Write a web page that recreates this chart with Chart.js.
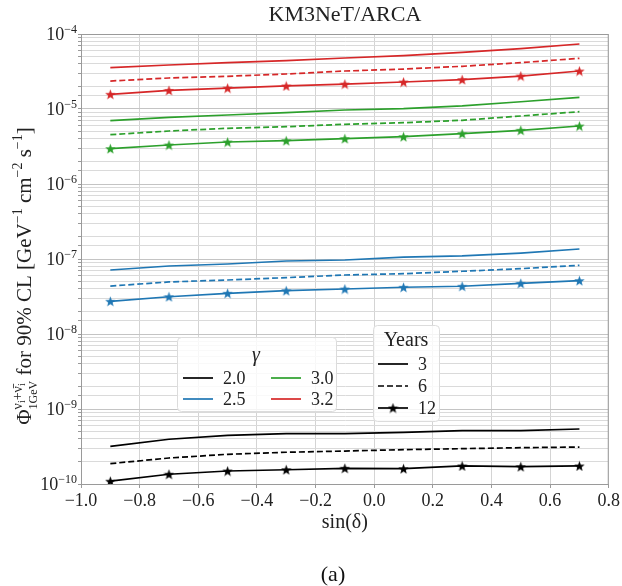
<!DOCTYPE html>
<html>
<head>
<meta charset="utf-8">
<script src="https://cdn.jsdelivr.net/npm/chart.js@4.4.1/dist/chart.umd.min.js"></script>
<style>
  html, body { margin: 0; padding: 0; background: #fff; }
  #wrap { width: 622px; height: 586px; position: relative; }
</style>
</head>
<body>
<div id="wrap"><canvas id="chart"></canvas></div>
<script>
// sin(declination) sample points
var sinDec = [-0.9, -0.7, -0.5, -0.3, -0.1, 0.1, 0.3, 0.5, 0.7];
var xTicks = [-1.0, -0.8, -0.6, -0.4, -0.2, 0.0, 0.2, 0.4, 0.6, 0.8];
var yDecades = [1e-10, 1e-9, 1e-8, 1e-7, 1e-6, 1e-5, 1e-4];
var gammaLabels = ['2.0', '2.5', '3.0', '3.2'];
var yearLabels = ['3', '6', '12'];
var gammaColors = ['#000000', '#1f77b4', '#2ca02c', '#d62728'];

// flux limits, per gamma and years of data
var g20y3  = [3.18e-10, 3.95e-10, 4.46e-10, 4.69e-10, 4.69e-10, 4.89e-10, 5.14e-10, 5.14e-10, 5.41e-10];
var g20y6  = [1.87e-10, 2.22e-10, 2.49e-10, 2.65e-10, 2.75e-10, 2.87e-10, 2.96e-10, 3.05e-10, 3.11e-10];
var g20y12 = [1.09e-10, 1.35e-10, 1.49e-10, 1.55e-10, 1.62e-10, 1.60e-10, 1.74e-10, 1.70e-10, 1.74e-10];

var g25y3  = [7.13e-8, 8.07e-8, 8.58e-8, 9.40e-8, 9.70e-8, 1.06e-7, 1.10e-7, 1.20e-7, 1.36e-7];
var g25y6  = [4.36e-8, 4.94e-8, 5.25e-8, 5.64e-8, 6.12e-8, 6.37e-8, 6.86e-8, 7.43e-8, 8.24e-8];
var g25y12 = [2.73e-8, 3.14e-8, 3.49e-8, 3.78e-8, 3.98e-8, 4.20e-8, 4.33e-8, 4.74e-8, 5.14e-8];

var g30y3  = [6.98e-6, 7.75e-6, 8.32e-6, 8.93e-6, 9.70e-6, 1.01e-5, 1.10e-5, 1.25e-5, 1.43e-5];
var g30y6  = [4.54e-6, 5.09e-6, 5.53e-6, 5.81e-6, 6.25e-6, 6.57e-6, 7.07e-6, 8.07e-6, 9.20e-6];
var g30y12 = [2.96e-6, 3.31e-6, 3.63e-6, 3.78e-6, 4.02e-6, 4.27e-6, 4.69e-6, 5.20e-6, 5.93e-6];

var g32y3  = [3.56e-5, 3.86e-5, 4.15e-5, 4.41e-5, 4.79e-5, 5.14e-5, 5.70e-5, 6.37e-5, 7.36e-5];
var g32y6  = [2.36e-5, 2.59e-5, 2.73e-5, 2.93e-5, 3.21e-5, 3.41e-5, 3.71e-5, 4.15e-5, 4.74e-5];
var g32y12 = [1.57e-5, 1.77e-5, 1.90e-5, 2.03e-5, 2.15e-5, 2.29e-5, 2.46e-5, 2.75e-5, 3.21e-5];

var fluxSets = [
  [g20y3, g20y6, g20y12],
  [g25y3, g25y6, g25y12],
  [g30y3, g30y6, g30y12],
  [g32y3, g32y6, g32y12]
];

var SERIF = '"Liberation Serif", "DejaVu Serif", serif';
var DASH = [6, 3];

function starImg(color, size) {
  var c = document.createElement('canvas');
  c.width = size; c.height = size;
  var g = c.getContext('2d');
  var m = size / 2;
  g.fillStyle = color;
  g.beginPath();
  for (var i = 0; i < 10; i++) {
    var r = i % 2 ? m * 0.42 : m;
    var a = -Math.PI / 2 + i * Math.PI / 5;
    g.lineTo(m + r * Math.cos(a), m + 0.5 + r * Math.sin(a));
  }
  g.closePath();
  g.fill();
  return c;
}

var stars = gammaColors.map(function (c) { return starImg(c, 11); });

var datasets = [];
for (var gi = 0; gi < gammaLabels.length; gi++) {
  for (var yi = 0; yi < yearLabels.length; yi++) {
    var vals = fluxSets[gi][yi];
    datasets.push({
      label: 'gamma ' + gammaLabels[gi] + ', ' + yearLabels[yi] + ' yr',
      data: sinDec.map(function (x, k) { return { x: x, y: vals[k] }; }),
      borderColor: gammaColors[gi],
      backgroundColor: gammaColors[gi],
      borderWidth: 1.7,
      borderDash: yi == 1 ? DASH : [],
      pointStyle: yi == 2 ? stars[gi] : 'circle',
      pointRadius: yi == 2 ? 5 : 0,
      tension: 0
    });
  }
}

function isDecade(v) {
  var l = Math.log10(v);
  return Math.abs(l - Math.round(l)) < 1e-6;
}

// draw text made of pieces {t, size, dy, stack}
function richWidth(ctx, parts) {
  var w = 0;
  parts.forEach(function (p) {
    if (p.stack) {
      w += Math.max(richWidth(ctx, p.sup), richWidth(ctx, p.sub));
    } else {
      ctx.font = p.size + 'px ' + SERIF;
      w += ctx.measureText(p.t).width;
    }
  });
  return w;
}
function drawRich(ctx, parts, x, y) {
  parts.forEach(function (p) {
    if (p.stack) {
      var w1 = drawRich(ctx, p.sup, x, y);
      var w2 = drawRich(ctx, p.sub, x, y);
      x = Math.max(w1, w2);
    } else {
      ctx.font = p.size + 'px ' + SERIF;
      ctx.fillText(p.t, x, y + (p.dy || 0));
      x += ctx.measureText(p.t).width;
    }
  });
  return x;
}

var yTitleParts = [
  { t: 'Φ', size: 21 },
  { stack: true,
    sup: [{ t: 'ν', size: 14, dy: -9 }, { t: 'i', size: 10, dy: -6 }, { t: '+ν̄', size: 14, dy: -9 }, { t: 'i', size: 10, dy: -6 }],
    sub: [{ t: '1GeV', size: 12, dy: 6 }] },
  { t: ' for 90% CL [GeV', size: 21 },
  { t: '−1', size: 14, dy: -9 },
  { t: ' cm', size: 21 },
  { t: '−2', size: 14, dy: -9 },
  { t: ' s', size: 21 },
  { t: '−1', size: 14, dy: -9 },
  { t: ']', size: 21 }
];

var decorations = {
  id: 'decorations',
  afterDraw: function (chart) {
    var ctx = chart.ctx;
    var a = chart.chartArea;
    var ys = chart.scales.y;
    ctx.save();

    // frame
    ctx.strokeStyle = '#9a9a9a';
    ctx.lineWidth = 1;
    ctx.strokeRect(a.left + 0.5, a.top + 0.5, a.right - a.left - 1, a.bottom - a.top);

    ctx.fillStyle = '#222';
    // title
    ctx.textAlign = 'center';
    ctx.textBaseline = 'middle';
    ctx.font = '22px ' + SERIF;
    ctx.fillText('KM3NeT/ARCA', (a.left + a.right) / 2, 15);

    // y tick labels 10^n
    yDecades.forEach(function (v) {
      var py = ys.getPixelForValue(v);
      var exp = '−' + Math.round(-Math.log10(v));
      ctx.font = '12px ' + SERIF;
      var we = ctx.measureText(exp).width;
      ctx.textAlign = 'right';
      ctx.textBaseline = 'alphabetic';
      var xr = a.left - 4;
      ctx.fillText(exp, xr, py - 1);
      ctx.font = '18px ' + SERIF;
      ctx.fillText('10', xr - we, py + 6);
    });

    // y axis title
    ctx.save();
    ctx.translate(31, 276);
    ctx.rotate(-Math.PI / 2);
    ctx.textAlign = 'left';
    ctx.textBaseline = 'alphabetic';
    var tw = richWidth(ctx, yTitleParts);
    drawRich(ctx, yTitleParts, -tw / 2, 0);
    ctx.restore();

    // x axis title and panel tag
    ctx.textAlign = 'center';
    ctx.textBaseline = 'middle';
    ctx.font = '20px ' + SERIF;
    ctx.fillText('sin(δ)', (a.left + a.right) / 2, 523);
    ctx.fillStyle = '#111';
    ctx.font = '22px ' + SERIF;
    ctx.fillText('(a)', 333, 575);

    // legend boxes
    function box(x, y, w, h) {
      ctx.beginPath();
      ctx.roundRect(x + 0.5, y + 0.5, w, h, 4);
      ctx.fillStyle = 'rgba(255,255,255,0.82)';
      ctx.fill();
      ctx.strokeStyle = '#dcdcdc';
      ctx.lineWidth = 1;
      ctx.stroke();
    }
    function sample(x1, x2, y, color, dash, star) {
      ctx.beginPath();
      ctx.setLineDash(dash);
      ctx.strokeStyle = color;
      ctx.lineWidth = 1.7;
      ctx.moveTo(x1, y); ctx.lineTo(x2, y);
      ctx.stroke();
      ctx.setLineDash([]);
      if (star) ctx.drawImage(star, (x1 + x2) / 2 - star.width / 2, y - star.height / 2);
    }

    // gamma legend
    box(177, 337, 159, 74);
    ctx.fillStyle = '#222';
    ctx.textAlign = 'center';
    ctx.font = 'italic 20px ' + SERIF;
    ctx.fillText('γ', 256, 356);
    ctx.textAlign = 'left';
    ctx.font = '18px ' + SERIF;
    gammaLabels.forEach(function (lab, i) {
      var col = Math.floor(i / 2), row = i % 2;
      var lx = 183 + col * 88, ly = 378 + row * 21;
      sample(lx, lx + 30, ly, gammaColors[i], [], null);
      ctx.fillStyle = '#222';
      ctx.fillText(lab, lx + 40, ly + 1);
    });

    // years legend
    box(373, 325, 66, 96);
    ctx.fillStyle = '#222';
    ctx.textAlign = 'center';
    ctx.font = '20px ' + SERIF;
    ctx.fillText('Years', 406, 341);
    ctx.textAlign = 'left';
    ctx.font = '18px ' + SERIF;
    yearLabels.forEach(function (lab, i) {
      var ly = 364 + i * 22;
      sample(378, 408, ly, '#000', i == 1 ? DASH : [], i == 2 ? stars[0] : null);
      ctx.fillStyle = '#222';
      ctx.fillText(lab, 418, ly + 1);
    });

    ctx.restore();
  }
};

new Chart(document.getElementById('chart'), {
  type: 'line',
  data: { datasets: datasets },
  options: {
    responsive: true,
    maintainAspectRatio: false,
    animation: false,
    layout: { padding: { left: 0, right: 12, top: 34, bottom: 0 } },
    plugins: {
      legend: { display: false },
      tooltip: { enabled: false }
    },
    scales: {
      x: {
        type: 'linear',
        min: -1.0,
        max: 0.8,
        afterFit: function (s) { s.height = 102; },
        afterBuildTicks: function (s) { s.ticks = xTicks.map(function (v) { return { value: v }; }); },
        grid: { color: '#d4d4d4', tickLength: 4, tickColor: '#9a9a9a' },
        border: { color: '#9a9a9a' },
        ticks: {
          color: '#222',
          padding: 2,
          font: { family: SERIF, size: 18 },
          callback: function (v) { return v.toFixed(1).replace('-', '−'); }
        }
      },
      y: {
        type: 'logarithmic',
        min: 1e-10,
        max: 1e-4,
        afterFit: function (s) { s.width = 81; },
        grid: {
          color: function (c) { return c.tick && isDecade(c.tick.value) ? '#c4c4c4' : '#dadada'; },
          tickLength: 3,
          tickColor: '#9a9a9a'
        },
        border: { color: '#9a9a9a' },
        ticks: {
          autoSkip: false,
          callback: function () { return ''; }
        }
      }
    }
  },
  plugins: [decorations]
});
</script>
</body>
</html>
